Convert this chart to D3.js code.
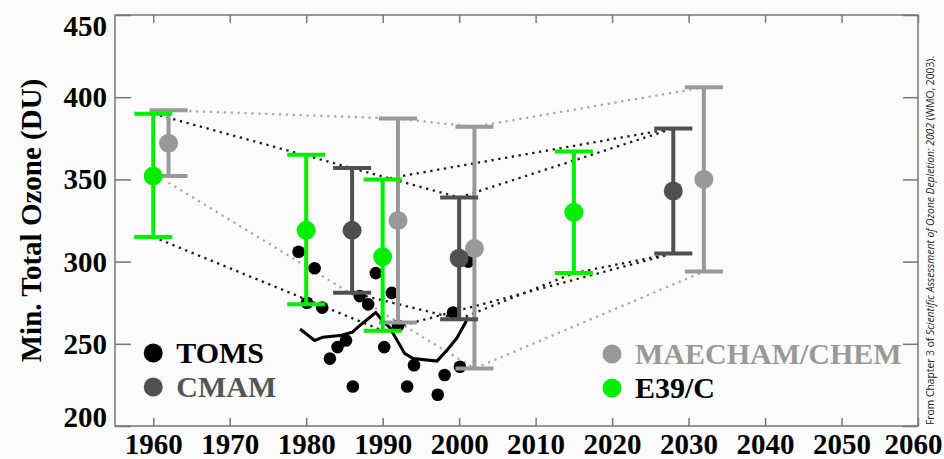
<!DOCTYPE html>
<html>
<head>
<meta charset="utf-8">
<script src="https://cdn.jsdelivr.net/npm/d3@7"></script>
<style>
  body { margin: 0; background: #fbfbfb; }
  svg { display: block; }
  .axis line { stroke: #777; stroke-width: 1.5; }
  .axis path { display: none; }
</style>
</head>
<body>
<div id="chart"></div>
<script>
// E39/C model: year, mean, upper, lower
var e39Years = [1960, 1980, 1990, 2015];
var e39Mean  = [352, 319, 303, 330];
var e39High  = [390, 365, 350, 367];
var e39Low   = [315, 274, 258, 293];

// CMAM model
var cmamYears = [1986, 2000, 2028];
var cmamMean  = [319, 302, 343];
var cmamHigh  = [357, 339, 381];
var cmamLow   = [281, 265, 305];

// MAECHAM/CHEM model
var maeYears = [1962, 1992, 2002, 2032];
var maeMean  = [372, 325, 308, 350];
var maeHigh  = [392, 387, 382, 406];
var maeLow   = [352, 263, 235, 294];

// TOMS observations
var tomsYears  = [1979.0, 1980.1, 1981.1, 1982.1, 1983.1, 1984.1, 1985.2, 1986.1, 1987.0, 1988.1, 1989.1,
                  1990.2, 1991.2, 1992.0, 1993.2, 1994.1, 1997.2, 1998.1, 1999.2, 2000.1, 2001.2];
var tomsValues = [306, 275, 296, 272, 241, 248, 252, 224, 279, 274, 293,
                  248, 281, 261, 224, 237, 219, 231, 269, 236, 300];

// smoothed TOMS curve
var smoothYears  = [1979.2, 1981.1, 1982.2, 1984.4, 1986, 1987, 1988.3, 1989.1, 1989.9, 1990.9,
                    1991.9, 1992.9, 1994, 1997.1, 1998.4, 1999.7, 2000.8, 2001.1];
var smoothValues = [259, 252, 254, 255, 257, 261, 266, 269, 264.5, 260,
                    252, 244, 241, 239.5, 246, 253.5, 262.6, 266];

// dotted envelope lines [year, DU]
var blackEnvelopes = [
  [[1960, 390], [2000, 339], [2028, 381]],
  [[1990, 350], [2028, 381]],
  [[1960, 315], [1990, 258], [2028, 305]],
  [[1986, 281], [2000, 265], [2015, 293], [2028, 305]]
];
var grayEnvelopes = [
  [[1962, 392], [1992, 387], [2002, 382], [2032, 406]],
  [[1962, 348], [2002, 235], [2032, 294]]
];

var xTicks = [1960, 1970, 1980, 1990, 2000, 2010, 2020, 2030, 2040, 2050, 2060];
var yTicks = [200, 250, 300, 350, 400, 450];

var legendLeft  = [{name: 'TOMS', color: '#000', text: '#000'}, {name: 'CMAM', color: '#505050', text: '#555'}];
var legendRight = [{name: 'MAECHAM/CHEM', color: '#999', text: '#999'}, {name: 'E39/C', color: '#00ee00', text: '#000'}];

var W = 944, H = 459;
var margin = {top: 15, right: 26, bottom: 33, left: 115};
var serif = '"Liberation Serif", "Times New Roman", serif';

var svg = d3.select('#chart').append('svg').attr('width', W).attr('height', H);

var x = d3.scaleLinear().domain([1955, 2060]).range([margin.left, W - margin.right]);
var y = d3.scaleLinear().domain([200, 450]).range([H - margin.bottom, margin.top]);

function labelStyle(sel) {
  sel.attr('font-family', serif)
    .attr('font-weight', 'bold')
    .attr('font-size', 29)
    .attr('fill', '#000');
}

// axes
var bottom = svg.append('g').attr('class', 'axis')
  .attr('transform', 'translate(0,' + y(200) + ')')
  .call(d3.axisBottom(x).tickValues(xTicks).tickSize(-8).tickPadding(0).tickFormat(d3.format('d')));
bottom.selectAll('text').attr('dy', 0).attr('y', 28).call(labelStyle)
  .attr('x', function(d) {
    // keep the last year inside the window
    var half = this.getComputedTextLength() / 2;
    return Math.min(0, W - 2 - (x(d) + half));
  });

svg.append('g').attr('class', 'axis')
  .attr('transform', 'translate(0,' + y(450) + ')')
  .call(d3.axisTop(x).tickValues(xTicks).tickSize(-8).tickFormat(''));

var left = svg.append('g').attr('class', 'axis')
  .attr('transform', 'translate(' + x(1955) + ',0)')
  .call(d3.axisLeft(y).tickValues(yTicks).tickSize(-16).tickPadding(8));
left.selectAll('text')
  .call(labelStyle)
  .attr('dy', '0.33em')
  .attr('y', function(d) {
    var p = y(d);
    return Math.min(Math.max(p, margin.top + 11), y(200) - 9) - p;
  });

svg.append('g').attr('class', 'axis')
  .attr('transform', 'translate(' + x(2060) + ',0)')
  .call(d3.axisRight(y).tickValues(yTicks).tickSize(-15).tickFormat(''));

// frame
svg.append('rect')
  .attr('x', x(1955)).attr('y', y(450))
  .attr('width', x(2060) - x(1955)).attr('height', y(200) - y(450))
  .attr('fill', 'none').attr('stroke', '#777').attr('stroke-width', 1.5);

// axis title
svg.append('text')
  .attr('transform', 'translate(41,' + (y(200) + y(450)) / 2 + ') rotate(-90)')
  .attr('text-anchor', 'middle')
  .attr('font-family', serif)
  .attr('font-weight', 'bold')
  .attr('font-size', 29)
  .text('Min. Total Ozone (DU)');

// source note
var note = svg.append('text')
  .attr('transform', 'translate(934,425) rotate(-90)')
  .attr('font-family', '"Open Sans", sans-serif')
  .attr('font-size', 10.3)
  .attr('fill', '#222');
note.append('tspan').text('From Chapter 3 of ');
note.append('tspan').attr('font-style', 'italic').text('Scientific Assessment of Ozone Depletion: 2002');
note.append('tspan').text(' (WMO, 2003).');

var line = d3.line().x(function(d) { return x(d[0]); }).y(function(d) { return y(d[1]); });

function drawEnvelopes(lines, color) {
  lines.forEach(function(pts) {
    svg.append('path')
      .attr('d', line(pts))
      .attr('fill', 'none')
      .attr('stroke', color)
      .attr('stroke-width', 2.3)
      .attr('stroke-dasharray', '2.3,4.6');
  });
}
drawEnvelopes(grayEnvelopes, '#aaa');
drawEnvelopes(blackEnvelopes, '#1a1a1a');

// TOMS smoothed line
svg.append('path')
  .attr('d', line(d3.zip(smoothYears, smoothValues)))
  .attr('fill', 'none')
  .attr('stroke', '#000')
  .attr('stroke-width', 3);

// TOMS points
svg.selectAll('.toms')
  .data(d3.zip(tomsYears, tomsValues))
  .enter().append('circle')
  .attr('class', 'toms')
  .attr('cx', function(d) { return x(d[0]); })
  .attr('cy', function(d) { return y(d[1]); })
  .attr('r', 6.3)
  .attr('fill', '#000');

function drawBars(years, mean, high, low, color) {
  var g = svg.append('g');
  var capW = 19;
  years.forEach(function(yr, i) {
    var cx = x(yr);
    g.append('line').attr('x1', cx).attr('x2', cx).attr('y1', y(high[i])).attr('y2', y(low[i]))
      .attr('stroke', color).attr('stroke-width', 4);
    g.append('line').attr('x1', cx - capW).attr('x2', cx + capW).attr('y1', y(high[i])).attr('y2', y(high[i]))
      .attr('stroke', color).attr('stroke-width', 4);
    g.append('line').attr('x1', cx - capW).attr('x2', cx + capW).attr('y1', y(low[i])).attr('y2', y(low[i]))
      .attr('stroke', color).attr('stroke-width', 4);
    g.append('circle').attr('cx', cx).attr('cy', y(mean[i])).attr('r', 9.5).attr('fill', color);
  });
}
drawBars(maeYears, maeMean, maeHigh, maeLow, '#999');
drawBars(cmamYears, cmamMean, cmamHigh, cmamLow, '#505050');
drawBars(e39Years, e39Mean, e39High, e39Low, '#00ee00');

// legends
function drawLegend(items, cx, cy0) {
  items.forEach(function(it, i) {
    var cy = cy0 + i * 34;
    svg.append('circle').attr('cx', cx).attr('cy', cy).attr('r', 9.5).attr('fill', it.color);
    svg.append('text')
      .attr('x', cx + 23).attr('y', cy + 10)
      .attr('font-family', serif)
      .attr('font-weight', 'bold')
      .attr('font-size', 30)
      .attr('fill', it.text)
      .text(it.name);
  });
}
drawLegend(legendLeft, x(1960), 353);
drawLegend(legendRight, 612, 354);
</script>
</body>
</html>
